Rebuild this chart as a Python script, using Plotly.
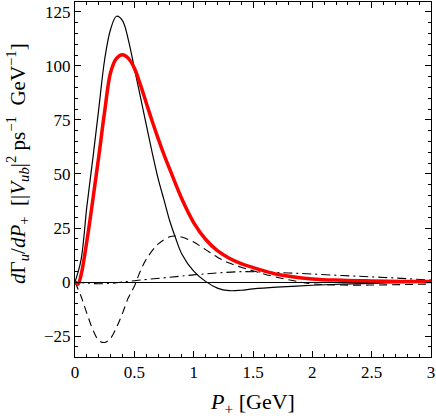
import plotly.graph_objects as go

# values (P+ in GeV, rate in |Vub|^2 ps^-1 GeV^-1)
x_total = [0, 0.05, 0.1, 0.15, 0.2, 0.25, 0.3, 0.35, 0.4, 0.45, 0.5, 0.55, 0.6, 0.65,
           0.7, 0.75, 0.8, 0.85, 0.9, 1.0, 1.1, 1.2, 1.3, 1.4, 1.5, 1.7, 2.0, 2.25, 2.5,
           2.75, 3.0]
y_total = [0, 10, 35, 57, 80, 103, 117, 123, 121, 112, 99, 86, 73, 60,
           48, 38, 28, 20, 13, 5, 0.3, -2.8, -4.0, -3.8, -3.2, -2.4, -1.5, -1.0, -0.6,
           -0.3, -0.1]

x_red = [0, 0.025, 0.05, 0.1, 0.15, 0.2, 0.25, 0.3, 0.35, 0.4, 0.45, 0.5, 0.55, 0.6,
         0.65, 0.7, 0.75, 0.8, 0.9, 1.0, 1.1, 1.2, 1.3, 1.4, 1.5, 1.7, 2.0, 2.25, 2.5,
         2.75, 3.0]
y_red = [0, -1, 3, 19, 38, 58, 79, 97, 103.5, 105.2, 103.5, 99, 91.5, 83,
         74.5, 66.5, 59, 52, 38.5, 27.5, 19.8, 14.5, 11, 8.5, 6.7, 3.6, 1.4, 0.8, 0.5,
         0.3, 0.2]

x_dash = [0, 0.05, 0.1, 0.15, 0.2, 0.25, 0.3, 0.35, 0.4, 0.45, 0.5, 0.55, 0.6, 0.7,
          0.8, 0.85, 0.9, 1.0, 1.1, 1.2, 1.3, 1.4, 1.5, 1.7, 2.0, 2.25, 2.5, 2.75, 3.0]
y_dash = [0, -6.5, -14.5, -22, -27, -28, -26, -21, -14.5, -7.2, -2, 5, 10.5, 17.5,
          21, 21.3, 20.8, 18.5, 15, 11.5, 8.8, 6.8, 5.2, 2.2, -0.8, -1.4, -1.4, -1.2, -0.9]

x_dashdot = [0, 0.1, 0.2, 0.3, 0.4, 0.5, 0.6, 0.8, 1.0, 1.2, 1.4, 1.6, 1.8, 2.0,
             2.25, 2.5, 2.75, 3.0]
y_dashdot = [0, -0.5, -0.8, -0.6, 0, 0.6, 1.2, 2.2, 3.3, 4.2, 4.8, 4.6, 4.2, 3.7,
             3.0, 2.4, 1.7, 0.9]

x_ticks = [0, 0.5, 1, 1.5, 2, 2.5, 3]
y_ticks = [-25, 0, 25, 50, 75, 100, 125]

x_title = "<i>P</i><sub>+</sub> [GeV]"
y_title = ("<i>d</i>Γ<sub><i>u</i></sub>/<i>dP</i><sub>+</sub>  "
           "[|<i>V</i><sub><i>ub</i></sub>|<sup>2</sup> ps<sup>−1</sup>  GeV<sup>−1</sup>]")

font_family = "Liberation Serif, Times New Roman, serif"

fig = go.Figure()

fig.add_trace(go.Scatter(x=x_dashdot, y=y_dashdot, mode="lines", line_shape="spline",
                         line=dict(color="black", width=1.1, dash="9px,4px,2px,4px")))
fig.add_trace(go.Scatter(x=x_dash, y=y_dash, mode="lines", line_shape="spline",
                         line=dict(color="black", width=1.1, dash="8px,5px")))
fig.add_trace(go.Scatter(x=x_total, y=y_total, mode="lines", line_shape="spline",
                         line=dict(color="black", width=1.2)))
fig.add_trace(go.Scatter(x=x_red, y=y_red, mode="lines", line_shape="spline",
                         line=dict(color="#ff0000", width=3.5)))

axis_common = dict(
    showline=True, linecolor="black", linewidth=1, mirror="ticks",
    ticks="inside", ticklen=6, tickwidth=1, tickcolor="black",
    showgrid=False,
    tickfont=dict(family=font_family, size=17, color="black"),
)

fig.update_xaxes(
    range=[0, 3], tickvals=x_ticks, zeroline=False,
    minor=dict(dtick=0.1, ticks="inside", ticklen=3, tickcolor="black"),
    title=dict(text=x_title, font=dict(family=font_family, size=22, color="black"),
               standoff=12),
    **axis_common,
)
fig.update_yaxes(
    range=[-34.7, 129.6], tickvals=y_ticks, zeroline=True,
    zerolinecolor="black", zerolinewidth=0.8,
    minor=dict(dtick=5, ticks="inside", ticklen=3, tickcolor="black"),
    **axis_common,
)

# y axis label placed as an annotation so it sits where the reference has it
fig.add_annotation(text=y_title, xref="paper", yref="paper", x=-0.16, y=0.544,
                   xanchor="center", yanchor="middle", textangle=-90, showarrow=False,
                   font=dict(family=font_family, size=21, color="black"))

fig.update_layout(
    width=436, height=419,
    margin=dict(l=75, r=5, t=2, b=62),
    showlegend=False,
    plot_bgcolor="white", paper_bgcolor="white",
    font=dict(family=font_family, color="black"),
)

fig.write_html("out.html", config={"displayModeBar": False},
               post_script="document.body.style.margin='0';")
